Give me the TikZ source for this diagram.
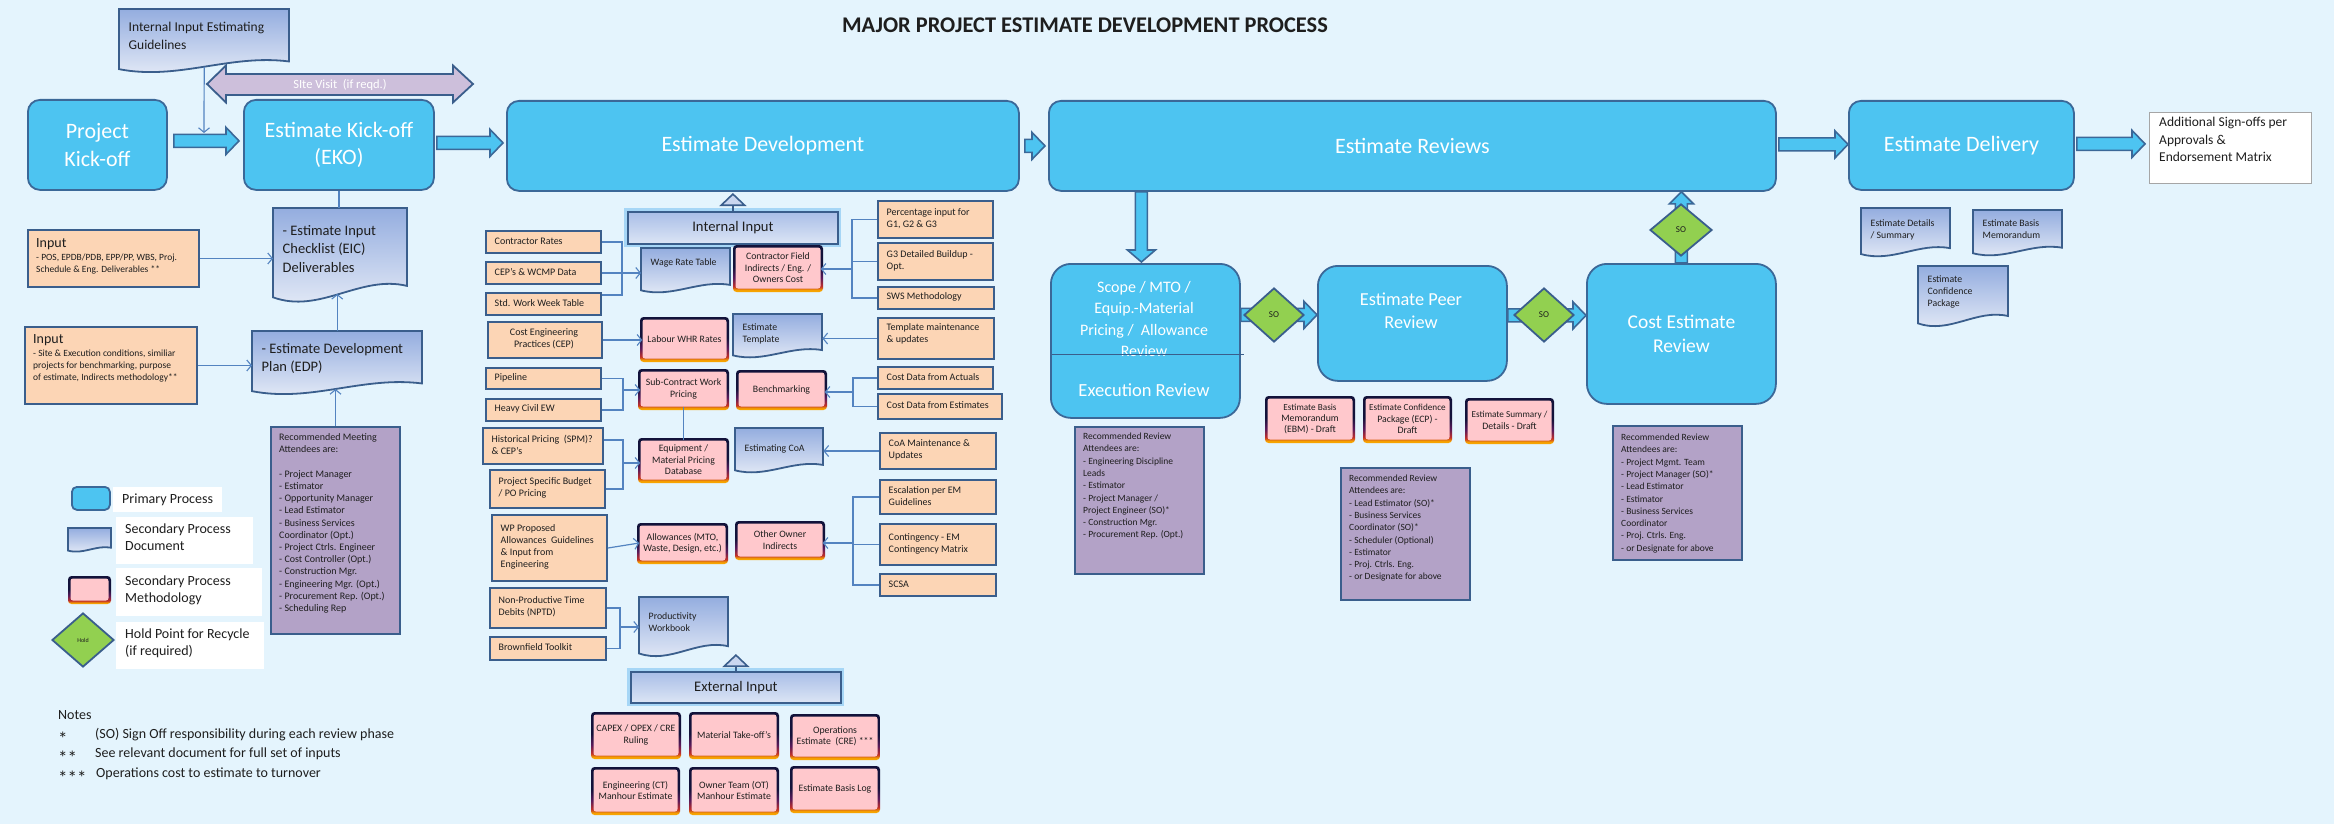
\documentclass[tikz,border=0pt]{standalone}
\usepackage{fontspec}
\setmainfont{Carlito}
\usetikzlibrary{arrows.meta,shapes.geometric,calc}
\definecolor{bgc}{HTML}{E4F4FD}
\definecolor{primc}{HTML}{4DC4F1}
\definecolor{primline}{HTML}{3B6898}
\definecolor{bline}{HTML}{3A5E8C}
\definecolor{orng}{HTML}{FCD5B5}
\definecolor{purp}{HTML}{B3A2C7}
\definecolor{pinkc}{HTML}{FFC8CC}
\definecolor{greenc}{HTML}{92D050}
\definecolor{glowc}{HTML}{A6D6F6}
\definecolor{doctop}{HTML}{94ADDF}
\definecolor{docbot}{HTML}{E9EEF8}
\definecolor{hdrtop}{HTML}{A9BEE7}
\definecolor{hdrbot}{HTML}{DCE5F5}
\definecolor{sitec}{HTML}{CDBFDB}
\definecolor{connc}{HTML}{5383C0}
\definecolor{txt}{HTML}{1E1E1E}
\definecolor{grayb}{HTML}{A6A6A6}
\definecolor{methor}{HTML}{F7A400}
\definecolor{methred}{HTML}{C0302A}
\definecolor{methpur}{HTML}{5A1A5A}
\definecolor{methdk}{HTML}{12123A}
\definecolor{trif}{HTML}{C9D6EF}
\pgfdeclareverticalshading{methgrad}{100bp}{color(0bp)=(methor); color(27bp)=(methor); color(31bp)=(methred); color(40bp)=(methpur); color(52bp)=(methdk); color(100bp)=(methdk)}
\newcommand\fsz[2]{\fontsize{#1}{#2}\selectfont}
\tikzset{
 conn/.style={draw=connc, line width=1.2pt},
 connA/.style={conn, -{Straight Barb[length=4.5pt,width=11pt,line width=1.1pt]}},
 prim/.style={draw=primline, line width=1.8pt, fill=primc, rounded corners=12pt, text=white, align=center, font=\fsz{22}{27.5}, inner sep=2pt},
 obox/.style={draw=bline, line width=2pt, fill=orng, inner sep=0pt},
 otext/.style={align=left, inner sep=0pt, font=\fsz{10}{11.8}, text=txt},
 methin/.style={fill=pinkc, rounded corners=2.5pt, align=center, inner sep=0pt, font=\fsz{9.8}{11.4}, text=txt},
 docsh/.style={draw=bline, line width=1.8pt, top color=doctop, bottom color=docbot},
 doctext/.style={align=left, inner sep=0pt, text=txt, font=\fsz{9.8}{12}},
 purb/.style={draw=bline, line width=2pt, fill=purp, inner sep=0pt},
 purt/.style={align=left, inner sep=0pt, text=txt, font=\fsz{9.5}{12.3}},
 holdd/.style={diamond, draw=bline, line width=1.8pt, fill=greenc, inner sep=0pt, minimum width=60pt, minimum height=54pt, font=\fsz{9}{10}, text=txt},
 barrow/.style={draw=primline, line width=1.6pt, fill=primc, line join=miter},
 hdr/.style={draw=bline, line width=1.8pt, top color=hdrtop, bottom color=hdrbot, font=\fsz{14.6}{17}, text=txt, inner sep=0pt, preaction={draw=glowc, line width=7pt}},
 uptri/.style={draw=bline, line width=1.6pt, -{Triangle[length=13pt,width=27pt,fill=trif,line width=1.6pt]}},
 lbl/.style={fill=white, inner sep=0pt},
 lbltext/.style={align=left, inner sep=0pt, font=\fsz{14}{17}, text=txt},
 notet/.style={anchor=west, inner sep=0pt, font=\fsz{14}{17}, text=txt},
 starst/.style={anchor=west, inner sep=0pt, font=\fsz{19}{19}, text=txt},
}
\newcommand\obx[7][]{%
 \pgfmathsetmacro\bw{#5-#3}\pgfmathsetmacro\bh{#6-#4}%
 \node[obox,minimum width=\bw pt,minimum height=\bh pt,anchor=north west] (#2) at (#3,#4) {};%
 \node[otext,anchor=west,#1] (#2-t) at ({#3+9.5},{(#4+#6)/2}) {#7};}
\newcommand\obxc[7][]{%
 \pgfmathsetmacro\bw{#5-#3}\pgfmathsetmacro\bh{#6-#4}%
 \node[obox,minimum width=\bw pt,minimum height=\bh pt,anchor=north west] (#2) at (#3,#4) {};%
 \node[otext,align=center,#1] (#2-t) at ({(#3+#5)/2},{(#4+#6)/2}) {#7};}
\newcommand\methbx[6]{%
 \shade[shading=methgrad, rounded corners=3.5pt] (#2,#3) rectangle (#4,#5);%
 \pgfmathsetmacro\bw{#4-#2-5}\pgfmathsetmacro\bh{#5-#3-6}%
 \node[methin,minimum width=\bw pt,minimum height=\bh pt] (#1) at ({(#2+#4)/2},{(#3+#5)/2-0.5}) {#6};}
\newcommand\docbx[8][]{%
 \pgfmathsetmacro\bw{#5-#3}\pgfmathsetmacro\bh{#6-#4}%
 \shade[docsh] (#3,#4) -- (#5,#4) -- (#5,{#6-0.18*\bh}) .. controls ({#3+0.65*\bw},{#6-0.30*\bh}) and ({#3+0.35*\bw},{#6+0.12*\bh}) .. (#3,{#6-0.06*\bh}) -- cycle;%
 \pgfmathsetmacro\nh{0.9*\bh}%
 \node[inner sep=0pt, minimum width=\bw pt, minimum height=\nh pt, anchor=north west] (#2) at (#3,#4) {};%
 \node[doctext, anchor=north west, #1] (#2-t) at ({#3+9.5},{#4+#7}) {#8};}
\newcommand\purbx[8][]{%
 \pgfmathsetmacro\bw{#5-#3}\pgfmathsetmacro\bh{#6-#4}%
 \node[purb,minimum width=\bw pt,minimum height=\bh pt,anchor=north west] (#2) at (#3,#4) {};%
 \node[purt,anchor=north west,#1] (#2-t) at ({#3+9},{#4+#7}) {#8};}
\newcommand\primbx[7][]{%
 \pgfmathsetmacro\bw{#5-#3}\pgfmathsetmacro\bh{#6-#4}%
 \node[prim,minimum width=\bw pt,minimum height=\bh pt,anchor=north west,#1] (#2) at (#3,#4) {#7};}
\newcommand\barH[2]{\filldraw[barrow] let \p1=#1, \p2=#2 in (\x1,{\y1+6.5pt}) -- ({\x2-13pt},{\y1+6.5pt}) -- ({\x2-13pt},{\y1+13.5pt}) -- (\x2,\y1) -- ({\x2-13pt},{\y1-13.5pt}) -- ({\x2-13pt},{\y1-6.5pt}) -- (\x1,{\y1-6.5pt}) -- cycle;}
\newcommand\barDown[2]{\filldraw[barrow] let \p1=#1, \p2=#2 in ({\x1-6pt},\y1) -- ({\x1-6pt},{\y2+12pt}) -- ({\x1-14pt},{\y2+12pt}) -- (\x1,\y2) -- ({\x1+14pt},{\y2+12pt}) -- ({\x1+6pt},{\y2+12pt}) -- ({\x1+6pt},\y1) -- cycle;}
\newcommand\barUp[2]{\filldraw[barrow] let \p1=#1, \p2=#2 in ({\x1-6pt},\y1) -- ({\x1-6pt},{\y2-12pt}) -- ({\x1-12pt},{\y2-12pt}) -- (\x1,\y2) -- ({\x1+12pt},{\y2-12pt}) -- ({\x1+6pt},{\y2-12pt}) -- ({\x1+6pt},\y1) -- cycle;}
\begin{document}
\begin{tikzpicture}[x=1pt,y=-1pt]
\useasboundingbox (0,0) rectangle (2334,824);
\fill[bgc] (0,0) rectangle (2334,824);
\node[font=\bfseries\fsz{22.4}{26}, text=txt] (title) at (1085,25) {MAJOR PROJECT ESTIMATE DEVELOPMENT PROCESS};

% site visit double arrow
\filldraw[draw=bline, line width=1.8pt, fill=sitec, line join=miter] (207,84) -- (226,65.5) -- (226,74) -- (453,74) -- (453,65.5) -- (473,84) -- (453,102.5) -- (453,95) -- (226,95) -- (226,102.5) -- cycle;
\node[text=white, font=\fsz{12.5}{14}] (site) at (340,85) {SIte Visit\ \ (if reqd.)};

% primary process
\primbx{pk}{27}{99}{166}{189}{Project\\Kick-off}
\primbx{eko}{243}{99}{433}{189}{Estimate Kick-off\\(EKO)}
\primbx{edev}{506}{100}{1018}{190}{Estimate Development}
\primbx{erev}{1048}{100}{1775}{190}{Estimate Reviews}
\primbx{edel}{1848}{100}{2073}{189}{Estimate Delivery}
\node[draw=grayb, line width=1.2pt, fill=white, minimum width=162pt, minimum height=71pt, anchor=north west, inner sep=0pt] (add) at (2149,112) {};
\node[anchor=north west, align=left, inner sep=0pt, font=\fsz{13.5}{17.5}, text=txt] (add-t) at (2159,117) {Additional Sign-offs per\\Approvals \&\\Endorsement Matrix};

\barH{($(pk.east)+(6,-4)$)}{($(eko.west)+(-4,0)$)}
\barH{($(eko.east)+(2,-2)$)}{($(edev.west)+(-3,0)$)}
\barH{($(edev.east)+(5,0)$)}{($(erev.west)+(-3,0)$)}
\barH{($(erev.east)+(2,-1.5)$)}{(edel.west)}
\barH{($(edel.east)+(2,-1.5)$)}{($(add.west)+(-4,0)$)}

% left documents
\docbx[font=\fsz{13.5}{18}]{iieg}{119}{9}{289}{73}{13}{Internal Input Estimating\\Guidelines}
\coordinate (pa) at (204,133);
\draw[connA] (iieg.south) -- (pa);
\docbx[font=\fsz{14.5}{18.5}]{eic}{273}{208}{407}{303}{17}{- Estimate Input\\Checklist (EIC)\\Deliverables}
\docbx[font=\fsz{14.5}{18.5}]{edp}{252}{331}{422}{395}{12}{- Estimate Development\\Plan (EDP)}
\draw[conn] (eko.south) -- (eko.south |- eic.north);
\draw[connA] (edp.north) -- (edp.north |- eic.south);

\node[obox, minimum width=171pt, minimum height=57pt, anchor=north west] (in1) at (27,229) {};
\node[anchor=west, inner sep=0pt, font=\fsz{14}{17}, text=txt] (in1-h) at (36,244) {Input};
\node[anchor=north west, align=left, inner sep=0pt, font=\fsz{9.5}{12.3}, text=txt] (in1-t) at (36,253.5) {- POS, EPDB/PDB, EPP/PP, WBS, Proj.\\Schedule \& Eng. Deliverables **};
\node[obox, minimum width=172pt, minimum height=77pt, anchor=north west] (in2) at (24,326) {};
\node[anchor=west, inner sep=0pt, font=\fsz{14}{17}, text=txt] (in2-h) at (33,340) {Input};
\node[anchor=north west, align=left, inner sep=0pt, font=\fsz{9.5}{12.3}, text=txt] (in2-t) at (33,349.5) {- Site \& Execution conditions, similiar\\projects for benchmarking, purpose\\of estimate, Indirects methodology**};
\draw[connA] (in1.east) -- (in1.east -| eic.west);
\draw[connA] (in2.east) -- (in2.east -| edp.west);

\purbx[font=\fsz{10}{12.2}]{matt}{270}{426}{399}{633}{7.5}{Recommended Meeting\\Attendees are:\\[12.2pt]- Project Manager\\- Estimator\\- Opportunity Manager\\- Lead Estimator\\- Business Services\\Coordinator (Opt.)\\- Project Ctrls. Engineer\\- Cost Controller (Opt.)\\- Construction Mgr.\\- Engineering Mgr. (Opt.)\\- Procurement Rep. (Opt.)\\- Scheduling Rep}
\draw[connA] (matt.north) -- (matt.north |- edp.south);

% legend
\primbx[rounded corners=5pt]{lprim}{71}{486}{109}{509}{}
\node[lbl, minimum width=109pt, minimum height=25pt, anchor=north west] (l1) at (113,487) {};
\node[lbltext, anchor=west] (l1-t) at (122,499.5) {Primary Process};
\docbx{ldoc}{68}{528}{111}{552}{0}{}
\node[lbl, minimum width=137pt, minimum height=47pt, anchor=north west] (l2) at (116,517) {};
\node[lbltext, anchor=north west] (l2-t) at (125,524) {Secondary Process\\Document};
\methbx{lmeth}{68}{576}{111}{604}{}
\node[lbl, minimum width=146pt, minimum height=48pt, anchor=north west] (l3) at (116,568) {};
\node[lbltext, anchor=north west] (l3-t) at (125,576) {Secondary Process\\Methodology};
\node[holdd, font=\fsz{6}{7}, minimum width=62pt] (lhold) at (83,640) {Hold};
\node[lbl, minimum width=148pt, minimum height=47pt, anchor=north west] (l4) at (116,622) {};
\node[lbltext, anchor=north west] (l4-t) at (125,629) {Hold Point for Recycle\\(if required)};

% notes
\node[notet] (notes) at (58,715) {Notes};
\node[starst] (n1s) at (58,739) {*};
\node[notet] (n1) at (95,735) {(SO) Sign Off responsibility during each review phase};
\node[starst] (n2s) at (58,758) {**};
\node[notet] (n2) at (95,754) {See relevant document for full set of inputs};
\node[starst] (n3s) at (58,778) {***};
\node[notet] (n3) at (96,774) {Operations cost to estimate to turnover};

% internal / external input headers
\node[hdr, minimum width=210pt, minimum height=32pt, anchor=north west] (intin) at (627,211) {Internal Input};
\draw[uptri] (intin.north) -- ++(0,-18);
\node[hdr, minimum width=210pt, minimum height=31pt, anchor=north west] (extin) at (630,671) {External Input};

% left inputs
\obx{cr}{485}{230}{600}{252}{Contractor Rates}
\obx{cepw}{485}{261}{600}{283}{CEP's \& WCMP Data}
\obx{std}{485}{292}{600}{314}{Std. Work Week Table}
\obxc{ceng}{487}{321}{601}{357}{Cost Engineering\\Practices (CEP)}
\obx{pipe}{485}{367}{600}{388}{Pipeline}
\obx{civil}{485}{398}{600}{420}{Heavy Civil EW}
\obx{hist}{482}{427}{602}{463}{Historical Pricing\ \ (SPM)?\\\& CEP's}
\obx{psb}{489}{469}{604}{507}{Project Specific Budget\\/ PO Pricing}
\obx{wp}{491}{514}{606}{580}{WP Proposed\\Allowances\ \ Guidelines\\\& Input from\\Engineering}
\obx{nptd}{489}{587}{605}{627}{Non-Productive Time\\Debits (NPTD)}
\obx{brown}{489}{636}{605}{659}{Brownfield Toolkit}

% middle column
\docbx{wage}{641}{248}{730}{293}{10.5}{Wage Rate Table}
\methbx{cfi}{733}{245}{823}{292}{Contractor Field\\Indirects / Eng. /\\Owners Cost}
\methbx{labour}{640}{317}{729}{362}{Labour WHR Rates}
\docbx{tmpl}{733}{314}{822}{358}{9.5}{Estimate\\Template}
\methbx{sub}{638}{369}{729}{410}{Sub-Contract Work\\Pricing}
\methbx{bench}{736}{370}{827}{410}{Benchmarking}
\methbx{equip}{638}{438}{729}{483}{Equipment /\\Material Pricing\\Database}
\docbx{coa}{735}{428}{823}{473}{16.5}{Estimating CoA}
\methbx{allow}{637}{523}{728}{564}{Allowances (MTO,\\Waste, Design, etc.)}
\methbx{other}{735}{521}{825}{560}{Other Owner\\Indirects}
\docbx{prod}{639}{597}{728}{657}{15.5}{Productivity\\Workbook}
\draw[uptri] (extin.north) -- ++(0,-17);

% external input methodologies
\methbx{capex}{591}{712}{681}{759}{CAPEX / OPEX / CRE\\Ruling}
\methbx{mto}{689}{712}{779}{759}{Material Take-off's}
\methbx{ops}{790}{714}{880}{760}{Operations\\Estimate\ \ (CRE) ***}
\methbx{engmh}{591}{767}{680}{815}{Engineering (CT)\\Manhour Estimate}
\methbx{otmh}{689}{767}{779}{815}{Owner Team (OT)\\Manhour Estimate}
\methbx{ebl}{790}{766}{880}{813}{Estimate Basis Log}

% right inputs
\obx{pct}{877}{200}{992}{237}{Percentage input for\\G1, G2 \& G3}
\obx{g3}{877}{242}{992}{279}{G3 Detailed Buildup -\\Opt.}
\obx{sws}{877}{286}{993}{308}{SWS Methodology}
\obx[yshift=4pt]{tmaint}{877}{317}{993}{358}{Template maintenance\\\& updates}
\obx{cda}{877}{366}{992}{388}{Cost Data from Actuals}
\obx{cde}{877}{393}{1001}{418}{Cost Data from Estimates}
\obx{coam}{879}{432}{995}{468}{CoA Maintenance \&\\Updates}
\obx{esc}{879}{479}{995}{513}{Escalation per EM\\Guidelines}
\obx{cont}{879}{523}{995}{564}{Contingency - EM\\Contingency Matrix}
\obx{scsa}{879}{573}{995}{595}{SCSA}

% left connectors
\coordinate (bl1) at (622,272);
\draw[conn] (cr.east) -| (bl1) |- ($(std.east)+(0,-9)$);
\draw[connA] (cepw.east) -- (cepw.east -| wage.west);
\draw[connA] (ceng.east) -- (ceng.east -| labour.west);
\coordinate (bl2) at (623,390);
\draw[conn] (pipe.east) -| (bl2) |- (civil.east);
\draw[connA] (bl2) -- (bl2 -| sub.west);
\coordinate (bl3) at (623,463);
\draw[conn] ($(hist.east)+(0,-6)$) -| (bl3) |- (psb.east);
\draw[connA] (bl3) -- (bl3 -| equip.west);
\draw[connA] (wp.east) -- (allow.west);
\coordinate (bl4) at (620,627);
\draw[conn] (nptd.east) -| (bl4) |- (brown.east);
\draw[connA] (bl4) -- (bl4 -| prod.west);
\draw[conn] (sub.south) -- (sub.south |- equip.north);

% right connectors
\coordinate (br1) at (852,269);
\draw[conn] (pct.west) -| (br1) |- (sws.west);
\draw[conn] (g3.west) -- (g3.west -| br1);
\draw[connA] (br1) -- (br1 -| cfi.east);
\draw[connA] (tmaint.west) -- (tmaint.west -| tmpl.east);
\coordinate (br2) at (853,392);
\draw[conn] (cda.west) -| (br2) |- (cde.west);
\draw[connA] (br2) -- (br2 -| bench.east);
\draw[connA] (coam.west) -- (coam.west -| coa.east);
\coordinate (br3) at (853,543);
\draw[conn] (esc.west) -| (br3) |- (scsa.west);
\draw[conn] (cont.west) -- (cont.west -| br3);
\draw[connA] (br3) -- (br3 -| other.east);

% reviews
\primbx[rounded corners=20pt]{scope}{1050}{263}{1239}{417}{}
\barDown{($(erev.south -| scope.north)+(-4,0)$)}{($(scope.north)+(-4,-1)$)}
\node[text=white, align=center, font=\fsz{16}{21.5}] (scope-t) at (1144,319) {Scope / MTO /\\Equip.-Material\\Pricing /\ \ Allowance\\Review};
\draw[draw=bline, line width=1pt] ($(scope.west)+(2,14)$) -- ($(scope.east)+(3,14)$);
\node[text=white, font=\fsz{18.5}{22}] (exec-t) at (1144,390) {Execution Review};
\primbx[rounded corners=20pt]{peer}{1317}{265}{1506}{380}{}
\node[text=white, align=center, font=\fsz{18.3}{23}] (peer-t) at (1411,311) {Estimate Peer\\Review};
\primbx[rounded corners=20pt, font=\fsz{19.5}{24}]{cost}{1586}{263}{1775}{403}{Cost Estimate\\Review}
\barH{($(scope.east)+(0,-26)$)}{(peer.west)}
\barH{($(peer.east)+(0,-8)$)}{(cost.west)}
\node[holdd] (so1) at (1274,315) {SO};
\node[holdd] (so2) at (1544,315) {SO};
\barUp{(cost.north)}{(cost.north |- erev.south)}
\node[holdd, minimum width=62pt, minimum height=52pt] (so3) at (1681,230) {SO};

\methbx{ebm}{1265}{396}{1355}{443}{\fsz{9.2}{10.8}Estimate Basis\\Memorandum\\(EBM) - Draft}
\methbx{ecp}{1363}{396}{1452}{443}{\fsz{9.2}{10.8}Estimate Confidence\\Package (ECP) -\\Draft}
\methbx{esd}{1465}{398}{1554}{444}{\fsz{9.2}{10.8}Estimate Summary /\\Details - Draft}

\purbx{satt}{1074}{426}{1203}{573}{6.7}{Recommended Review\\Attendees are:\\- Engineering Discipline\\Leads\\- Estimator\\- Project Manager /\\Project Engineer (SO)*\\- Construction Mgr.\\- Procurement Rep. (Opt.)}
\purbx{patt}{1340}{467}{1469}{599}{7.7}{Recommended Review\\Attendees are:\\- Lead Estimator (SO)*\\- Business Services\\Coordinator (SO)*\\- Scheduler (Optional)\\- Estimator\\- Proj. Ctrls. Eng.\\- or Designate for above}
\purbx{catt}{1612}{425}{1741}{559}{8.7}{Recommended Review\\Attendees are:\\- Project Mgmt. Team\\- Project Manager (SO)*\\- Lead Estimator\\- Estimator\\- Business Services\\Coordinator\\- Proj. Ctrls. Eng.\\- or Designate for above}

% delivery documents
\docbx{dds}{1861}{208}{1950}{257}{11.5}{Estimate Details\\/ Summary}
\docbx{dbm}{1973}{210}{2062}{256}{9.5}{Estimate Basis\\Memorandum}
\docbx{dcp}{1918}{266}{2008}{327}{9.5}{Estimate\\Confidence\\Package}
\end{tikzpicture}
\end{document}
